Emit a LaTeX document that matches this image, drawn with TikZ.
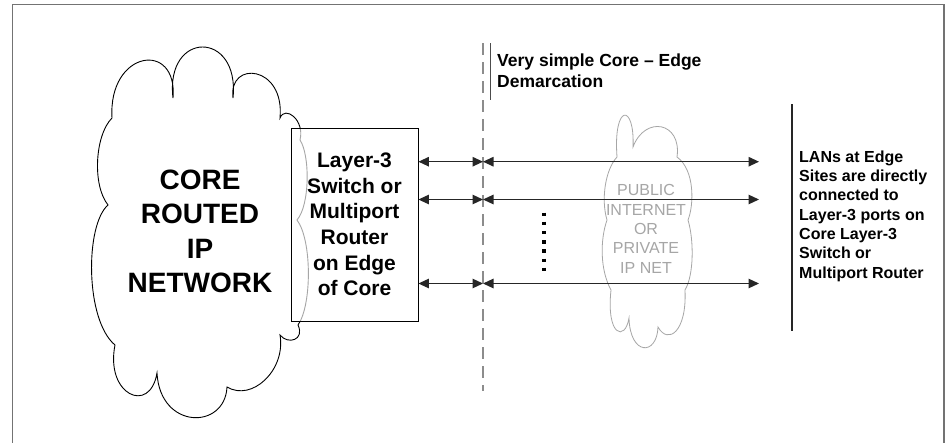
\documentclass[tikz,border=0pt]{standalone}
\usepackage{fontspec}
\setmainfont{Liberation Sans}
\usetikzlibrary{arrows.meta}
\begin{document}
\begin{tikzpicture}[x=1pt,y=-1pt,
  frameline/.style={draw=black!55, line width=1.4pt},
  cloudline/.style={draw=black, line width=0.9pt},
  greycloud/.style={draw=black!35, line width=0.8pt},
  arr/.style={draw=black!85, line width=1.2pt, {Triangle[length=10.5pt,width=9.5pt]}-{Triangle[length=10.5pt,width=9.5pt]}},
  bigtext/.style={font=\bfseries\fontsize{28}{34.3}\selectfont, align=center},
  boxtext/.style={font=\bfseries\fontsize{21}{25.6}\selectfont, align=center},
  demtext/.style={font=\bfseries\fontsize{17.5}{21}\selectfont, align=left, anchor=west, inner sep=0pt},
  lantext/.style={font=\bfseries\fontsize{16}{19.3}\selectfont, align=left, anchor=west, inner sep=0pt},
  nettext/.style={font=\fontsize{16}{19.3}\selectfont, align=center, text=black!35}
]
\useasboundingbox (0,0) rectangle (948,442);
\fill[white] (0,0) rectangle (948,442);
% outer frame
\draw[frameline] (12.5,446) -- (12.5,4.5) -- (944,4.5) -- (944,446);

% big cloud
\draw[cloudline] (112,118)
  .. controls (108,50) and (178,40) .. (173,98)
  .. controls (165,30) and (240,30) .. (233,98)
  .. controls (228,60) and (285,65) .. (280,118)
  .. controls (285,105) and (305,120) .. (300,140)
  .. controls (310,155) and (310,205) .. (297,220)
  .. controls (312,240) and (312,305) .. (298,325)
  .. controls (305,340) and (288,345) .. (280,335)
  .. controls (286,370) and (252,402) .. (227,387)
  .. controls (225,430) and (160,430) .. (157,373)
  .. controls (150,415) and (105,395) .. (115,345)
  .. controls (85,320) and (85,225) .. (108,205)
  .. controls (92,185) and (95,135) .. (112,118) -- cycle;
\node[bigtext] (core) at (200,231.5) {CORE\\ROUTED\\IP\\NETWORK};

% router box
\node[draw=black, line width=0.9pt, fill=white, fill opacity=0.65, text opacity=1,
  minimum width=127pt, minimum height=193pt, inner sep=0pt, boxtext] (box)
  at (354.5,224.5) {Layer-3\\Switch or\\Multiport\\Router\\on Edge\\of Core};

% small grey cloud
\draw[greycloud] (617,157)
  .. controls (613,103) and (635,103) .. (633,147)
  .. controls (645,115) and (682,122) .. (677,157)
  .. controls (695,170) and (694,205) .. (688,220)
  .. controls (694,240) and (694,275) .. (685,290)
  .. controls (687,332) and (668,345) .. (658,327)
  .. controls (657,356) and (630,356) .. (629,318)
  .. controls (625,342) and (606,336) .. (611,290)
  .. controls (600,270) and (600,240) .. (607,220)
  .. controls (601,200) and (605,170) .. (617,157) -- cycle;
\node[nettext] (net) at (646,229) {PUBLIC\\INTERNET\\OR\\PRIVATE\\IP NET};

% demarcation
\coordinate (dtop) at (483,43);
\coordinate (dbot) at (483,391);
\draw[draw=black!45, line width=1.1pt, dash pattern=on 12pt off 7pt] (dtop) -- (dbot);
\coordinate (mtop) at (490.5,43);
\coordinate (mbot) at (490.5,100);
\draw[draw=black!70, line width=1.1pt] (mtop) -- (mbot);
\node[demtext] (dem) at (497,70.5) {Very simple Core -- Edge\\Demarcation};

% arrows
\coordinate (d1) at (483,161.7);
\coordinate (d2) at (483,199.5);
\coordinate (d3) at (483,283.5);
\coordinate (e1) at (759,161.7);
\coordinate (e2) at (759,199.5);
\coordinate (e3) at (759,283.5);
\draw[arr] (box.east |- d1) -- (d1);
\draw[arr] (box.east |- d2) -- (d2);
\draw[arr] (box.east |- d3) -- (d3);
\draw[arr] (d1) -- (e1);
\draw[arr] (d2) -- (e2);
\draw[arr] (d3) -- (e3);

% dots
\coordinate (vtop) at (544,212.5);
\coordinate (vbot) at (544,271);
\draw[line width=3.5pt, dash pattern=on 3.5pt off 5.7pt] (vtop) -- (vbot);

% LAN side
\coordinate (ltop) at (792,104);
\coordinate (lbot) at (792,331);
\draw[draw=black!85, line width=1.1pt] (ltop) -- (lbot);
\node[lantext] (lan) at (799,216) {LANs at Edge\\Sites are directly\\connected to\\Layer-3 ports on\\Core Layer-3\\Switch or\\Multiport Router};
\end{tikzpicture}
\end{document}
